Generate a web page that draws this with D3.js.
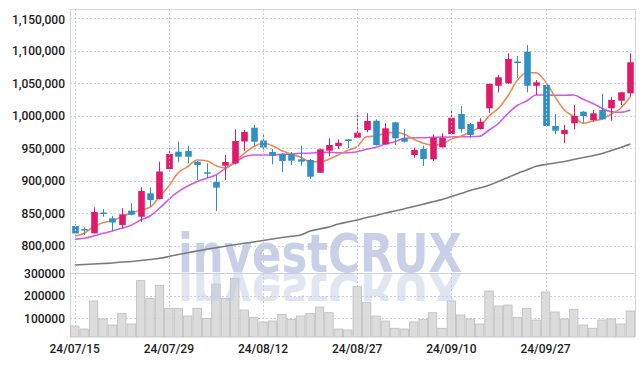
<!DOCTYPE html>
<html><head><meta charset="utf-8">
<script src="https://cdn.jsdelivr.net/npm/d3@7"></script>
<style>html,body{margin:0;padding:0;background:#fff;}svg{display:block;}</style>
</head><body>
<svg id="c" width="644" height="366"></svg>
<script>
const dates = ["24/07/15","24/07/16","24/07/17","24/07/18","24/07/19","24/07/22","24/07/23","24/07/24","24/07/25","24/07/26","24/07/29","24/07/30","24/07/31","24/08/01","24/08/02","24/08/05","24/08/06","24/08/07","24/08/08","24/08/09","24/08/12","24/08/13","24/08/14","24/08/16","24/08/19","24/08/20","24/08/21","24/08/22","24/08/23","24/08/26","24/08/27","24/08/28","24/08/29","24/08/30","24/09/02","24/09/03","24/09/04","24/09/05","24/09/06","24/09/09","24/09/10","24/09/11","24/09/12","24/09/13","24/09/19","24/09/20","24/09/23","24/09/24","24/09/25","24/09/26","24/09/27","24/09/30","24/10/02","24/10/04","24/10/07","24/10/08","24/10/10","24/10/11","24/10/14","24/10/15"];
const open  = [830300,825700,819100,851100,842200,831900,853900,844600,880600,871900,918000,944700,945700,929300,913000,898000,923100,926500,960400,981600,961900,944200,941100,941100,933000,931900,912300,946200,953400,963700,966200,978100,992400,956100,989900,965300,939600,948800,933000,951400,971900,1002700,987300,979600,1011500,1046200,1049900,1083500,1098600,1046200,1047300,984200,971900,988400,1006200,993400,1008800,1011500,1023200,1034500];
const high  = [833400,828300,859100,856500,845700,857600,865300,889900,889900,929300,949900,960100,953900,930400,926800,908800,939600,979100,978100,985800,971900,948800,942700,944200,953900,933400,949600,965300,963700,964200,1005300,1003800,994500,988400,990800,979100,950800,953900,971400,973000,1010400,1015000,988900,996100,1049600,1062700,1096100,1091900,1108900,1055000,1048100,1002700,985800,1016500,1007300,1008800,1033500,1029300,1036600,1096100];
const low   = [816500,816500,818800,844600,822600,826800,846500,836900,859600,871100,914200,928400,926800,901100,903700,853400,901100,925000,946200,953900,944700,925300,913000,924200,923100,902700,911900,938000,948800,949900,965500,974500,954200,955700,955000,958800,935400,922700,930400,951100,970400,973900,966500,978800,1004700,1036100,1048900,1058200,1036100,1031900,983500,971900,957600,979100,989300,990800,994200,992400,1016500,1029300];
const close = [818800,824900,851900,850300,835700,848300,847700,884200,870300,914200,941100,937000,937000,924200,911900,889300,928800,961100,975000,960100,951100,938500,930400,930900,929300,906200,948400,955000,958500,961100,973900,992000,955000,980700,965300,960100,947300,933400,966200,966200,997000,979600,970400,990800,1048900,1059200,1087300,1081900,1046200,1051500,984200,977000,978100,999600,999600,1003800,994500,1024300,1036100,1082300];
const volume = [65800,52400,176900,96900,70200,122200,74700,267100,188900,246700,144400,144400,110200,144400,100000,252400,188900,277800,136900,104400,83600,88000,117800,95600,110200,122200,150000,124900,52400,48000,240400,171100,110200,88000,55600,52400,83600,95600,124900,55600,176900,114700,96900,74700,221300,154700,159100,104400,144400,92400,216900,128000,96900,140000,70200,55600,92400,96900,74700,132400];
const maShort = [814900,819100,829200,835400,838500,844600,849900,854900,859100,875400,891900,912300,921600,931900,930800,923100,919600,929300,942200,952400,957600,953900,946200,941100,936100,929300,929300,933000,939600,946500,952400,967800,968800,973000,974500,971400,963700,957600,955000,956100,964200,968400,975000,982700,999600,1011500,1030400,1054500,1066300,1066300,1052400,1029300,1008800,998500,988400,991900,995000,1002700,1011900,1029300];
const maMid = [809800,811400,814900,819100,822600,826800,831400,839600,845700,857600,871400,883100,891900,898500,903700,908800,919100,927700,937000,939600,939600,939600,940700,941100,942200,942200,943700,943700,943100,943100,944700,948400,951400,956500,960100,965300,966200,966200,966800,967300,967300,967800,967800,968400,978100,988100,1003500,1015800,1022700,1031900,1031900,1031500,1031500,1031900,1025300,1019200,1011500,1006200,1005300,1008800];
const maLong = [770300,771100,771800,772600,773400,774900,775700,777200,778800,780600,783400,786500,789100,791800,794500,796800,799100,801500,803700,805700,808000,810300,812600,814500,816500,822600,825700,828800,833400,836500,839600,843400,846500,850300,853400,856800,860300,863900,867600,871100,875700,880300,885000,888800,893000,898800,905000,911100,916500,922300,925000,927300,929600,932700,935700,938500,941900,946500,951100,956500];
const priceTicks = [800000,850000,900000,950000,1000000,1050000,1100000,1150000];
const volTicks = [100000,200000,300000];
const dateTicks = ["24/07/15","24/07/29","24/08/12","24/08/27","24/09/10","24/09/27"];

const svg = d3.select("#c");
const L = 70, R = 635, PT = 9, PB = 270, VT = 273.3, VB = 337;
const font = "Roboto, 'Liberation Sans', sans-serif";
const upC = "#e2186b", dnC = "#2f90c6", gridC = "#c9cde0";

const x = d3.scaleBand().domain(dates).range([L, R]).padding(0);
const cx = d => x(d) + x.bandwidth() / 2;
const y = d3.scaleLinear().domain([800000, 1150000]).range([245.7, 18.3]);
const yv = d3.scaleLinear().domain([100000, 300000]).range([318.3, 273.3]);

// defs
const defs = svg.append("defs");
defs.append("clipPath").attr("id", "pclip").append("rect").attr("x", L).attr("y", PT).attr("width", R - L).attr("height", PB - PT);
defs.append("clipPath").attr("id", "rclip").append("rect").attr("x", 150).attr("y", 273).attr("width", 340).attr("height", 28);

// watermark
svg.append("text").attr("x", 178).attr("y", 272).attr("textLength", 284).attr("lengthAdjust", "spacingAndGlyphs")
  .attr("font-family", "'DejaVu Sans', sans-serif").attr("font-weight", "bold").attr("font-size", 54)
  .attr("fill", "#c8cfe6").text("investCRUX");

// price gridlines
const pg = svg.append("g").attr("clip-path", "url(#pclip)");
pg.selectAll("line.h").data(priceTicks).join("line")
  .attr("x1", L).attr("x2", R).attr("y1", d => Math.round(y(d)) + 0.5).attr("y2", d => Math.round(y(d)) + 0.5)
  .attr("stroke", gridC).attr("stroke-dasharray", "2,2");
// vertical gridlines
svg.selectAll("line.v").data(dateTicks).join("line")
  .attr("x1", d => Math.round(cx(d)) + 0.5).attr("x2", d => Math.round(cx(d)) + 0.5)
  .attr("y1", PT).attr("y2", VB)
  .attr("stroke", gridC).attr("stroke-dasharray", "2,2");

// borders
svg.append("line").attr("x1", L + 0.5).attr("x2", L + 0.5).attr("y1", PT).attr("y2", VB).attr("stroke", "#d5d5dd");
svg.append("line").attr("x1", R + 0.5).attr("x2", R + 0.5).attr("y1", PT).attr("y2", VB).attr("stroke", "#d5d5dd");
svg.append("line").attr("x1", L).attr("x2", R).attr("y1", PT + 0.5).attr("y2", PT + 0.5).attr("stroke", "#d5d5dd");

// price y labels
svg.append("g").selectAll("text").data(priceTicks).join("text")
  .attr("x", 65).attr("y", d => y(d) + (d === 1150000 ? 1 : 0)).attr("dy", "0.36em").attr("text-anchor", "end")
  .attr("font-family", font).attr("font-size", 12).attr("font-weight", 500).attr("fill", "#222")
  .text(d => d3.format(",")(d));

// MA lines
const lineOf = arr => d3.line().x((d, i) => cx(dates[i])).y(d => y(d)).curve(d3.curveMonotoneX)(arr);
pg.append("path").attr("d", lineOf(maLong)).attr("fill", "none").attr("stroke", "#7a7a7a").attr("stroke-width", 1.6);
pg.append("path").attr("d", lineOf(maMid)).attr("fill", "none").attr("stroke", "#d35ae6").attr("stroke-width", 1.6);
pg.append("path").attr("d", lineOf(maShort)).attr("fill", "none").attr("stroke", "#ee8a50").attr("stroke-width", 1.6);

// candles
const bw = 6.6;
const cg = pg.append("g");
dates.forEach((d, i) => {
  const up = close[i] > open[i];
  const col = up ? upC : dnC;
  const xc = Math.round(cx(d)) + 0.5;
  cg.append("line").attr("x1", xc).attr("x2", xc).attr("y1", y(high[i])).attr("y2", y(low[i])).attr("stroke", col).attr("stroke-width", 1);
  const top = y(Math.max(open[i], close[i])), bot = y(Math.min(open[i], close[i]));
  const h = Math.max(bot - top, 1.5);
  cg.append("rect").attr("x", xc - bw / 2).attr("y", top).attr("width", bw).attr("height", h).attr("fill", col);
});

// volume grid
svg.append("g").selectAll("line").data(volTicks.filter(v => v < 300000)).join("line")
  .attr("x1", L).attr("x2", R).attr("y1", d => Math.round(yv(d)) + 0.5).attr("y2", d => Math.round(yv(d)) + 0.5)
  .attr("stroke", gridC).attr("stroke-dasharray", "2,2");
svg.append("line").attr("x1", L).attr("x2", R).attr("y1", Math.round(yv(300000)) + 0.5).attr("y2", Math.round(yv(300000)) + 0.5).attr("stroke", "#d0d0d8");

// volume bars
svg.append("g").selectAll("rect").data(volume).join("rect")
  .attr("x", (d, i) => x(dates[i]) + 0.5).attr("y", d => yv(d))
  .attr("width", x.bandwidth() - 1).attr("height", d => VB - yv(d))
  .attr("fill", "#d8d8d8").attr("fill-opacity", 0.9).attr("stroke", "#bdbdbd").attr("stroke-width", 0.8);

// watermark reflection (over bars, faint)
svg.append("g").attr("clip-path", "url(#rclip)")
  .append("g").attr("transform", "translate(0,546) scale(1,-1)")
  .append("text").attr("x", 178).attr("y", 272).attr("textLength", 284).attr("lengthAdjust", "spacingAndGlyphs")
  .attr("font-family", "'DejaVu Sans', sans-serif").attr("font-weight", "bold").attr("font-size", 54)
  .attr("fill", "#c3cae4").attr("fill-opacity", 0.5).text("investCRUX");

// volume labels
svg.append("g").selectAll("text").data(volTicks).join("text")
  .attr("x", 65).attr("y", d => yv(d)).attr("dy", "0.36em").attr("text-anchor", "end")
  .attr("font-family", font).attr("font-size", 12).attr("font-weight", 500).attr("fill", "#222")
  .text(d => d);

// x axis labels
svg.append("g").selectAll("text").data(dateTicks).join("text")
  .attr("x", d => cx(d)).attr("y", 353).attr("text-anchor", "middle")
  .attr("font-family", font).attr("font-size", 12).attr("font-weight", 500).attr("fill", "#222")
  .text(d => d);
</script>
</body></html>
